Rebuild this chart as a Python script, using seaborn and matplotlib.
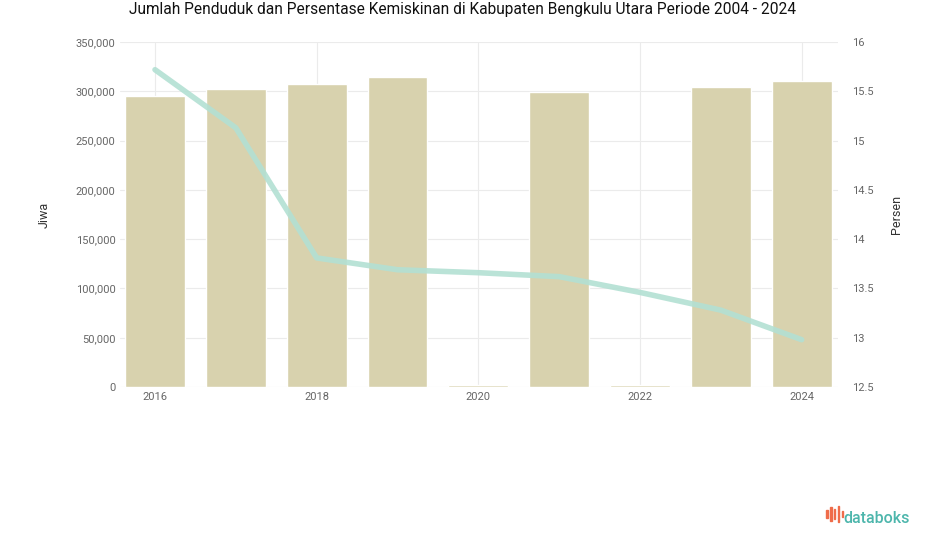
import numpy as np
import pandas as pd
import matplotlib
matplotlib.use("Agg")
import matplotlib.pyplot as plt
import matplotlib.ticker as mticker
import seaborn as sns

# --------- Datos ---------
tahun = ["2016", "2017", "2018", "2019", "2020", "2021", "2022", "2023", "2024"]
label_tahun = ["2016", "", "2018", "", "2020", "", "2022", "", "2024"]
penduduk = [295200, 302300, 307400, 314500, 2500, 299300, 2500, 304300, 310400]
kemiskinan = [15.72, 15.13, 13.81, 13.69, 13.66, 13.62, 13.46, 13.28, 12.98]

df = pd.DataFrame({"Tahun": tahun, "Penduduk": penduduk, "Persen": kemiskinan})

sns.set_theme(style="white")
plt.rcParams["font.family"] = ["Roboto", "DejaVu Sans"]

fig = plt.figure(figsize=(9.25, 5.47), dpi=100)
ax = fig.add_axes([0.130, 0.2925, 0.776, 0.6305])

sns.barplot(data=df, x="Tahun", y="Penduduk", color="#d8d2ae", saturation=1,
            width=0.74, ax=ax, zorder=2)
ax.set_ylim(0, 350000)
ax.set_xlim(-0.43, 8.45)
ax.yaxis.set_major_locator(mticker.MultipleLocator(50000))
ax.yaxis.set_major_formatter(mticker.FuncFormatter(lambda v, p: f"{int(v):,}"))
ax.set_xticks(range(len(tahun)))
ax.set_xticklabels(label_tahun)
ax.grid(True, axis="y", color="#ebebeb", linewidth=0.8, zorder=0)
for pos in [0, 2, 4, 6, 8]:
    ax.axvline(pos, color="#ebebeb", linewidth=0.8, zorder=0)
ax.set_xlabel("")
ax.set_ylabel("Jiwa", fontsize=9, color="#333333", labelpad=18)
ax.tick_params(axis="both", labelsize=8, colors="#666666", length=0)
for s in ax.spines.values():
    s.set_visible(False)

ax2 = ax.twinx()
sns.lineplot(x=np.arange(len(tahun)), y=kemiskinan, ax=ax2, color="#b3e0d3",
             linewidth=4, alpha=0.9)
ax2.set_ylim(12.5, 16)
ax2.yaxis.set_major_locator(mticker.MultipleLocator(0.5))
ax2.yaxis.set_major_formatter(mticker.FuncFormatter(lambda v, p: f"{v:g}"))
ax2.set_ylabel("Persen", fontsize=9, color="#333333", labelpad=12)
ax2.tick_params(axis="y", labelsize=8, colors="#666666", length=0, pad=10)
for s in ax2.spines.values():
    s.set_visible(False)
ax2.grid(False)

fig.text(0.5, 0.982, "Jumlah Penduduk dan Persentase Kemiskinan di Kabupaten Bengkulu Utara Periode 2004 - 2024",
         ha="center", va="center", fontsize=11.2, color="#111111")

# logo databoks
fig.text(0.984, 0.052, "databoks", ha="right", va="center", fontsize=11.5,
         color="#4db6ac", fontweight="medium")
for i, h in enumerate([0.014, 0.026, 0.018, 0.030, 0.012]):
    fig.patches.append(plt.Rectangle((0.893 + i * 0.0042, 0.060 - h * 0.5), 0.0018, h,
                                     transform=fig.transFigure, color="#ef6c4a"))

fig.savefig("out.png", dpi=100)
